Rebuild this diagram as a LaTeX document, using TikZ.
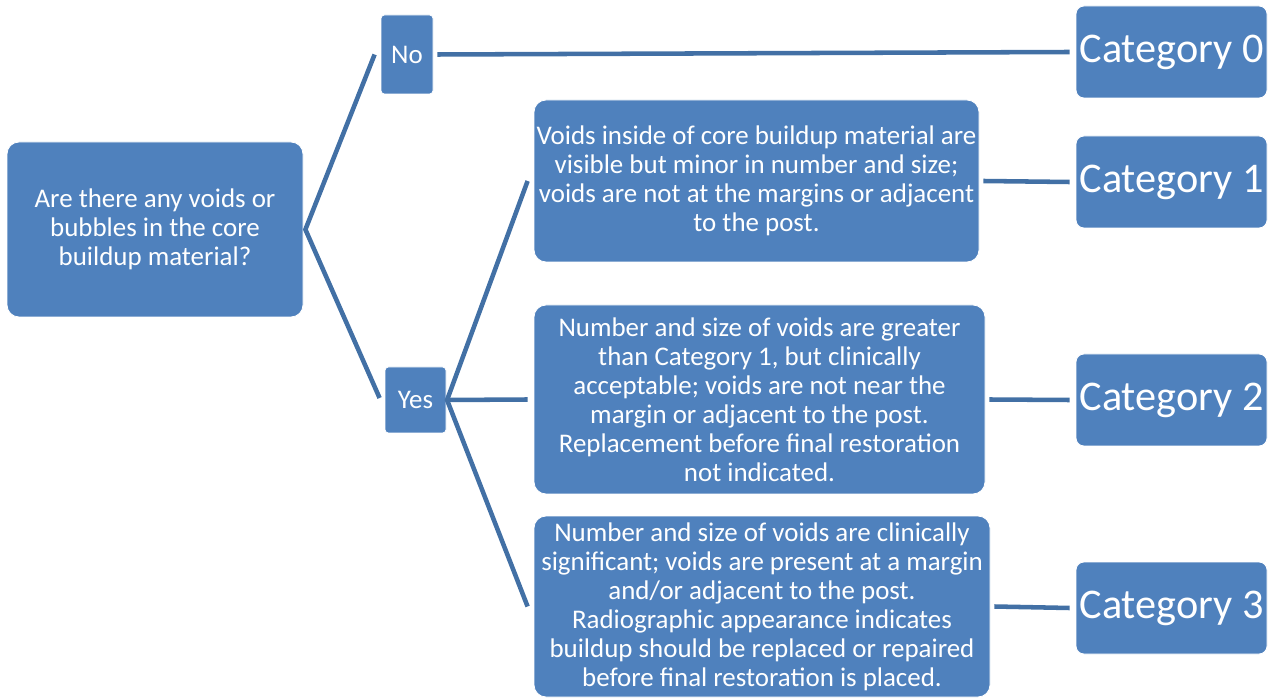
\documentclass[tikz,border=0pt]{standalone}
\usepackage{fontspec}
\setmainfont{Carlito}
\usetikzlibrary{calc}
\definecolor{boxfill}{RGB}{79,129,189}
\definecolor{linecol}{RGB}{66,112,165}
\tikzset{
  box/.style={fill=boxfill, draw=white, line width=0.6pt, rounded corners=9pt, text=white, align=center, inner sep=0pt,
    font=\fontsize{20.2}{21.75}\selectfont},
  smallbox/.style={box, rounded corners=2.5pt},
  catbox/.style={box, rounded corners=6pt, minimum width=143.25pt, minimum height=69pt, font=\fontsize{31.7}{36}\selectfont},
  conn/.style={draw=linecol, line width=3.4pt},
}
\begin{document}
\begin{tikzpicture}[x=0.75pt,y=-0.75pt]
\useasboundingbox (0,0) rectangle (1282,698);
% nodes
\node[box, minimum width=222pt, minimum height=131.25pt] (Q) at (155,229.5) {Are there any voids or\\bubbles in the core\\buildup material?};
\node[smallbox, minimum width=39pt, minimum height=59.25pt] (No) at (407,54.5) {No};
\node[smallbox, minimum width=45.75pt, minimum height=49.5pt] (Yes) at (415.5,400) {Yes};
\node[catbox] (C0) at (1171.5,52) {Category 0};
\node[catbox] (C1) at (1171.5,182) {Category 1};
\node[catbox] (C2) at (1171.5,400) {Category 2};
\node[catbox] (C3) at (1171.5,608) {Category 3};
\node[box, minimum width=333.75pt, minimum height=121.5pt] (B1) at (756.5,181) {Voids inside of core buildup material are\\visible but minor in number and size;\\voids are not at the margins or adjacent\\to the post.};
\node[box, minimum width=338.25pt, minimum height=141.75pt] (B2) at (759.5,399.5) {Number and size of voids are greater\\than Category 1, but clinically\\acceptable; voids are not near the\\margin or adjacent to the post.\\Replacement before final restoration\\not indicated.};
\node[box, minimum width=342pt, minimum height=135.75pt] (B3) at (762,606.5) {Number and size of voids are clinically\\significant; voids are present at a margin\\and/or adjacent to the post.\\Radiographic appearance indicates\\buildup should be replaced or repaired\\before final restoration is placed.};
% connectors
\draw[conn] ($(No.west)+(-6,0)$) -- ([xshift=1.5pt]Q.east) -- ($(Yes.west)+(-5,-2)$);
\draw[conn] ($(B1.west)+(-6,0)$) -- ([xshift=0.5pt]Yes.east) -- ($(B3.west)+(-6,0)$);
\draw[conn] ([xshift=0.5pt]Yes.east) -- ($(B2.west)+(-6,0)$);
\draw[conn] ($(No.east)+(4,0)$) -- ($(C0.west)+(-6,0)$);
\draw[conn] ($(B1.east)+(4,0)$) -- ($(C1.west)+(-6,0)$);
\draw[conn] ($(B2.east)+(4,0)$) -- ($(C2.west)+(-6,0)$);
\draw[conn] ($(B3.east)+(4,0)$) -- ($(C3.west)+(-6,0)$);
\end{tikzpicture}
\end{document}
